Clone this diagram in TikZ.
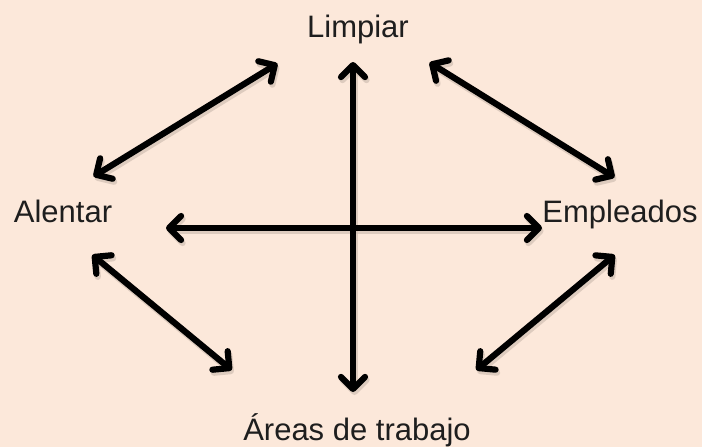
\documentclass[tikz,border=0pt]{standalone}
\usepackage{fontspec}
\setmainfont{Liberation Sans}
\usetikzlibrary{arrows.meta}
\definecolor{bgpeach}{HTML}{FCE8DA}
\definecolor{txtgray}{HTML}{1E1E1E}
\definecolor{shadowc}{HTML}{C9B8AC}
\begin{document}
\begin{tikzpicture}[x=1pt,y=-1pt,
  lbl/.style={font=\fontsize{31}{36}\selectfont, text=txtgray, inner sep=0pt, anchor=base},
  tipstyle/.style={line width=6.2pt, {Straight Barb[length=12pt,width=24pt,line cap=round,line join=round]}-{Straight Barb[length=12pt,width=24pt,line cap=round,line join=round]}, shorten <=3pt, shorten >=3pt},
  dbl/.style={tipstyle, black},
  shd/.style={tipstyle, shadowc, opacity=0.6, transform canvas={shift={(1.5pt,-3pt)}}}]
\fill[bgpeach] (0,0) rectangle (702,447);
\useasboundingbox (0,0) rectangle (702,447);
\node[lbl] (limpiar) at (358,37) {Limpiar};
\node[lbl] (alentar) at (63,222) {Alentar};
\node[lbl] (empleados) at (620,222) {Empleados};
\node[lbl] (areas) at (357,440) {Áreas de trabajo};
% arrow endpoints
\coordinate (tlA) at (91,178);
\coordinate (tlB) at (280,62);
\coordinate (trA) at (427,61);
\coordinate (trB) at (617,179);
\coordinate (vA) at (353,59);
\coordinate (vB) at (353,395);
\coordinate (hA) at (163,228);
\coordinate (hB) at (545,228);
\coordinate (blA) at (90,253);
\coordinate (blB) at (234,372);
\coordinate (brA) at (617,253);
\coordinate (brB) at (474,372);
\foreach \a/\b in {tlA/tlB, trA/trB, vA/vB, hA/hB, blA/blB, brA/brB}{
  \draw[shd] (\a) -- (\b);
}
\draw[dbl] (tlA) -- (tlB);
\draw[dbl] (trA) -- (trB);
\draw[dbl] (vA) -- (vB);
\draw[dbl] (hA) -- (hB);
\draw[dbl] (blA) -- (blB);
\draw[dbl] (brA) -- (brB);
\end{tikzpicture}
\end{document}
